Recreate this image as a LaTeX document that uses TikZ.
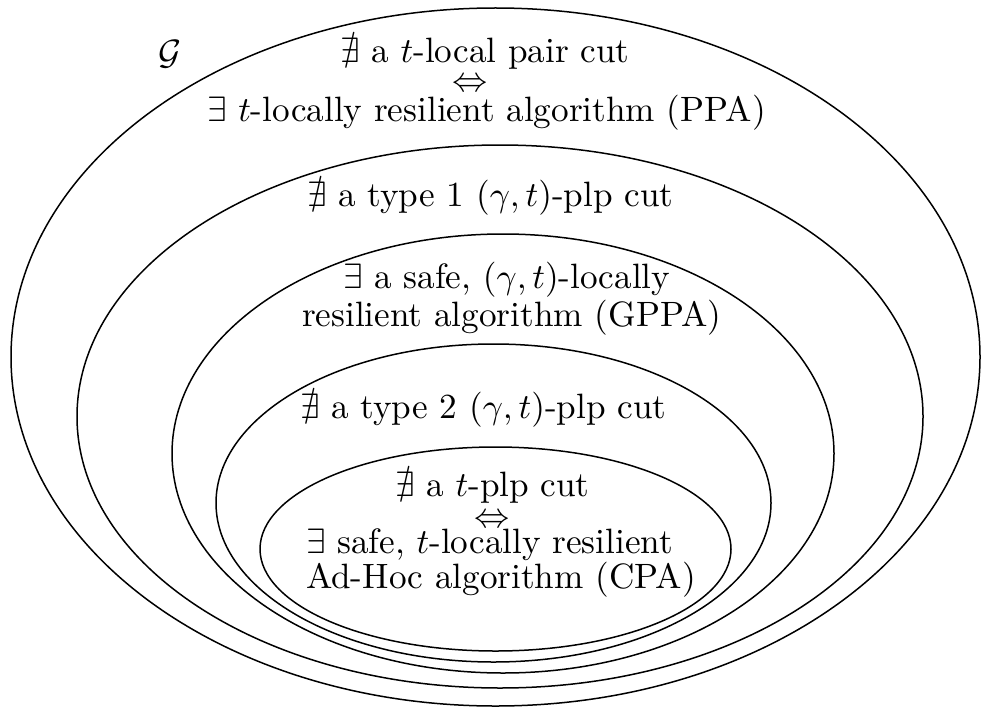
\documentclass[tikz,border=0pt]{standalone}
\usepackage{amssymb}
\usetikzlibrary{shapes.geometric}
\tikzset{
  ring/.style={draw, ellipse, line width=1.5pt, inner sep=0pt, outer sep=0pt},
  txt/.style={inner sep=0pt, outer sep=0pt, anchor=base west, scale=3.52, transform shape},
  arr/.style={inner sep=0pt, outer sep=0pt, anchor=base, scale=3.52, transform shape}
}
\begin{document}
\begin{tikzpicture}[x=1pt, y=-1pt]
\useasboundingbox (0,0) rectangle (981,706);
\fill[white] (0,0) rectangle (981,706);
% nested sets
\node[ring, minimum width=969pt, minimum height=698pt] (e1) at (495.5,357) {};
\node[ring, minimum width=846pt, minimum height=543pt] (e2) at (500,416.5) {};
\node[ring, minimum width=662pt, minimum height=439pt] (e3) at (503,453.5) {};
\node[ring, minimum width=555pt, minimum height=318pt] (e4) at (493.5,503) {};
\node[ring, minimum width=471pt, minimum height=204pt] (e5) at (495.5,549) {};
% labels
\node[txt] (g) at (158,65) {$\mathcal{G}$};
\node[txt] (a1) at (340,63) {$\nexists$ a $t$-local pair cut};
\node[arr] (a2) at (470,92) {$\Leftrightarrow$};
\node[txt] (a3) at (207,121) {$\exists$ $t$-locally resilient algorithm (PPA)};
\node[txt] (b1) at (307,206) {$\nexists$ a type 1 $(\gamma,t)$-plp cut};
\node[txt] (c1) at (343,288) {$\exists$ a safe, $(\gamma,t)$-locally};
\node[txt] (c2) at (302,326) {resilient algorithm (GPPA)};
\node[txt] (d1) at (300,418) {$\nexists$ a type 2 $(\gamma,t)$-plp cut};
\node[txt] (f1) at (395,496) {$\nexists$ a $t$-plp cut};
\node[arr] (f2) at (492,527) {$\Leftrightarrow$};
\node[txt] (f3) at (306,553) {$\exists$ safe, $t$-locally resilient};
\node[txt] (f4) at (306,588) {Ad-Hoc algorithm (CPA)};
\end{tikzpicture}
\end{document}
